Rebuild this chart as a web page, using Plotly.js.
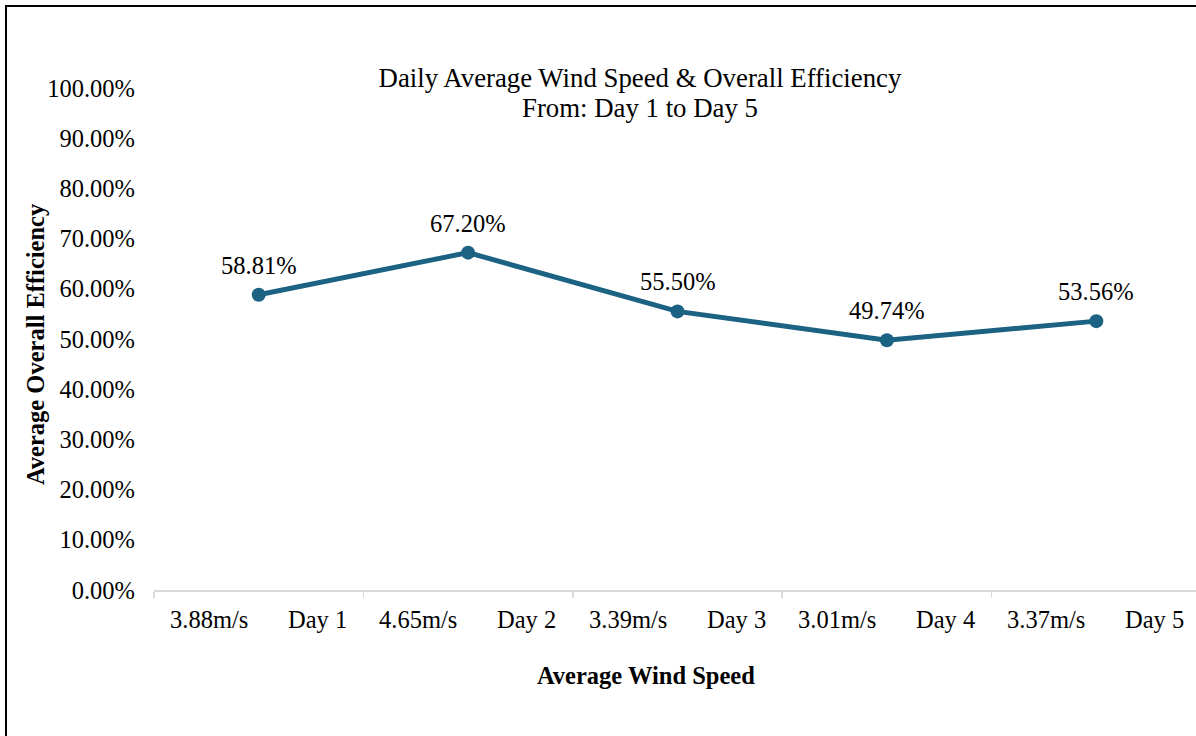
<!DOCTYPE html>
<html>
<head>
<meta charset="utf-8">
<script src="https://cdn.plot.ly/plotly-3.0.1.min.js"></script>
<style>
  html, body { margin: 0; padding: 0; overflow: hidden; width: 1196px; height: 736px; background: #fff; }
  #chart { position: absolute; left: 0; top: 0; }
  #frame { position: absolute; left: 5px; top: 5px; width: 2000px; height: 2000px;
           border-left: 2px solid #000; border-top: 2px solid #000; pointer-events: none; }
</style>
</head>
<body>
<div id="chart"></div>
<div id="frame"></div>
<script>
const days = ["Day 1", "Day 2", "Day 3", "Day 4", "Day 5"];
const windSpeeds = ["3.88m/s", "4.65m/s", "3.39m/s", "3.01m/s", "3.37m/s"];
const efficiency = [0.5881, 0.6720, 0.5550, 0.4974, 0.5356];
const yTickVals = [0, 0.1, 0.2, 0.3, 0.4, 0.5, 0.6, 0.7, 0.8, 0.9, 1.0];
const titleLine1 = 'Daily Average Wind Speed & Overall Efficiency';
const titleLine2 = 'From: Day 1 to Day 5';
const xTitle = 'Average Wind Speed';
const yTitle = 'Average Overall Efficiency';

const W = 1230, H = 736;
const L = 154, R = 1201, T = 88, B = 590;
const FONT = '"Liberation Serif", "Times New Roman", serif';
const FS = 24.5;
const idx = days.map((d, i) => i);
const pct = v => (v * 100).toFixed(2) + '%';

const trace = {
  x: idx,
  y: efficiency,
  type: 'scatter',
  mode: 'lines+markers',
  line: { color: '#1b6283', width: 5 },
  marker: { color: '#1b6283', size: 14 },
  cliponaxis: false,
  hoverinfo: 'skip'
};

const annotations = [];
idx.forEach(i => {
  annotations.push({
    x: i, xref: 'x', xanchor: 'center',
    y: efficiency[i], yref: 'y', yanchor: 'bottom', yshift: 14,
    text: pct(efficiency[i]), showarrow: false,
    font: { family: FONT, size: FS, color: '#000' }
  });
  annotations.push({
    x: i - 0.5 + 0.066, xref: 'x', xanchor: 'left',
    y: 0, yref: 'paper', yanchor: 'top', yshift: -14,
    text: windSpeeds[i], showarrow: false,
    font: { family: FONT, size: FS, color: '#000' }
  });
  annotations.push({
    x: i + 0.5 - 0.07, xref: 'x', xanchor: 'right',
    y: 0, yref: 'paper', yanchor: 'top', yshift: -14,
    text: days[i], showarrow: false,
    font: { family: FONT, size: FS, color: '#000' }
  });
});
// second title line
annotations.push({
  xref: 'paper', x: (640 - L) / (R - L), xanchor: 'center',
  yref: 'paper', y: 1, yanchor: 'middle', yshift: -(108 - T),
  text: titleLine2, showarrow: false,
  font: { family: FONT, size: 26.8, color: '#000' }
});
// axis titles
annotations.push({
  xref: 'paper', x: (646 - L) / (R - L), xanchor: 'center',
  yref: 'paper', y: 0, yanchor: 'middle', yshift: -(675 - B),
  text: '<b>' + xTitle + '</b>', showarrow: false,
  font: { family: FONT, size: FS, color: '#000' }
});
annotations.push({
  xref: 'paper', x: 0, xanchor: 'center', xshift: 35 - L,
  yref: 'paper', y: 0.5, yanchor: 'middle', yshift: -5,
  textangle: -90,
  text: '<b>' + yTitle + '</b>', showarrow: false,
  font: { family: FONT, size: FS, color: '#000' }
});

const layout = {
  width: W, height: H,
  margin: { l: L, r: W - R, t: T, b: H - B },
  paper_bgcolor: 'rgba(0,0,0,0)',
  plot_bgcolor: 'rgba(0,0,0,0)',
  showlegend: false,
  font: { family: FONT, size: FS, color: '#000' },
  title: {
    text: titleLine1,
    font: { family: FONT, size: 26.8, color: '#000' },
    xref: 'container', x: 640 / W, xanchor: 'center',
    yref: 'container', y: 1 - 78 / H, yanchor: 'middle'
  },
  xaxis: {
    range: [-0.5, 4.5],
    tickmode: 'array',
    tickvals: [-0.5, 0.5, 1.5, 2.5, 3.5, 4.5],
    showticklabels: false,
    ticks: 'outside', ticklen: 6, tickwidth: 1.5, tickcolor: '#d9d9d9',
    showline: true, linecolor: '#d9d9d9', linewidth: 2,
    showgrid: false, zeroline: false,
    automargin: false
  },
  yaxis: {
    range: [0, 1],
    tickmode: 'array',
    tickvals: yTickVals,
    ticktext: yTickVals.map(pct),
    ticks: '',
    ticklabelstandoff: 18,
    showline: false, showgrid: false, zeroline: false,
    tickfont: { family: FONT, size: FS },
    automargin: false
  },
  annotations: annotations
};

Plotly.newPlot('chart', [trace], layout, { displayModeBar: false, staticPlot: true });
</script>
</body>
</html>
